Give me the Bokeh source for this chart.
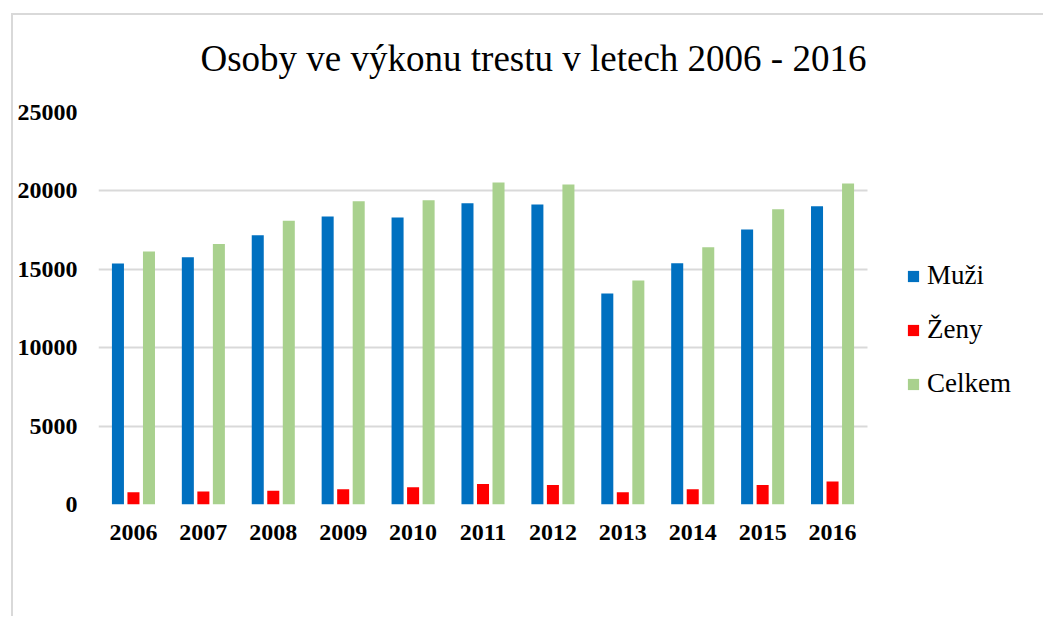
from bokeh.plotting import figure
from bokeh.models import (ColumnDataSource, Range1d, FixedTicker, Legend, LegendItem, Title)
from bokeh.embed import file_html
from bokeh.resources import INLINE

years = ["2006", "2007", "2008", "2009", "2010", "2011", "2012", "2013", "2014", "2015", "2016"]
muzi = [15370, 15770, 17170, 18370, 18300, 19210, 19130, 13460, 15390, 17540, 19020]
zeny = [780, 830, 870, 980, 1100, 1300, 1250, 780, 980, 1250, 1470]
celkem = [16140, 16620, 18090, 19340, 19410, 20530, 20410, 14290, 16410, 18830, 20470]
y_ticks = [0, 5000, 10000, 15000, 20000, 25000]

title_text = "Osoby ve výkonu trestu v letech 2006 - 2016"
series_names = ["Muži", "Ženy", "Celkem"]
colors = ["#0070C0", "#FF0000", "#A9D18E"]

idx = list(range(len(years)))
dx = 0.222
src = ColumnDataSource(dict(x=idx, xm=[i - dx for i in idx], xc=[i + dx for i in idx],
                            muzi=muzi, zeny=zeny, celkem=celkem))

# layout: canvas 1032 wide; frame from 85 to 1027 (canvas px); categories occupy 769 px
W, H = 1032, 603
ML, MR, MT, MB = 85, 5, 97, 114
frame_w = W - ML - MR
cat_px = 769 / len(years)
x0 = -0.5
x1 = x0 + frame_w / cat_px

p = figure(width=W, height=H, x_range=Range1d(x0, x1), y_range=Range1d(0, 25000),
           output_backend="svg", toolbar_location=None,
           min_border_left=ML, min_border_right=MR, min_border_top=MT, min_border_bottom=MB)
p.styles = {"border-left": "2px solid #d9d9d9", "border-top": "2px solid #d9d9d9",
            "margin-left": "11px", "margin-top": "13px"}

# spacer between frame and title, then the title itself
p.add_layout(Title(text=" ", text_font_size="1px", standoff=31), "above")
p.add_layout(Title(text=title_text, text_font="Liberation Serif", text_font_size="37px",
                   text_font_style="normal", align="left", offset=102, standoff=0,
                   text_color="#000000"), "above")

serif = "Liberation Serif"
r1 = p.vbar(x="xm", top="muzi", width=0.172, source=src, fill_color=colors[0], line_color=None)
r2 = p.vbar(x="x", top="zeny", width=0.172, source=src, fill_color=colors[1], line_color=None)
r3 = p.vbar(x="xc", top="celkem", width=0.172, source=src, fill_color=colors[2], line_color=None)

p.xgrid.visible = False
p.ygrid.grid_line_color = "#d9d9d9"
p.ygrid.grid_line_width = 2
p.ygrid.ticker = FixedTicker(ticks=y_ticks)
p.ygrid.cross_bounds = (-0.5, len(years) - 0.5)
p.yaxis.ticker = FixedTicker(ticks=y_ticks)
p.xaxis.ticker = FixedTicker(ticks=idx)
p.xaxis.major_label_overrides = {i: y for i, y in zip(idx, years)}
p.outline_line_color = None

for ax in (p.xaxis, p.yaxis):
    ax.axis_line_color = None
    ax.major_tick_line_color = None
    ax.minor_tick_line_color = None
    ax.major_label_text_font = serif
    ax.major_label_text_font_style = "bold"
    ax.major_label_text_font_size = "24px"
    ax.major_label_text_color = "#000000"
p.yaxis.major_label_standoff = 15
p.xaxis.major_label_standoff = 14

legend = Legend(items=[LegendItem(label=series_names[0], renderers=[r1]),
                       LegendItem(label=series_names[1], renderers=[r2]),
                       LegendItem(label=series_names[2], renderers=[r3])],
                location=(808, 105), orientation="vertical",
                label_text_font=serif, label_text_font_size="27px", label_text_color="#000000",
                glyph_width=14, glyph_height=14, label_standoff=7, spacing=23,
                padding=0, margin=0, border_line_color=None, background_fill_alpha=0)
p.add_layout(legend, "center")

open("out.html", "w").write(file_html(p, INLINE))
